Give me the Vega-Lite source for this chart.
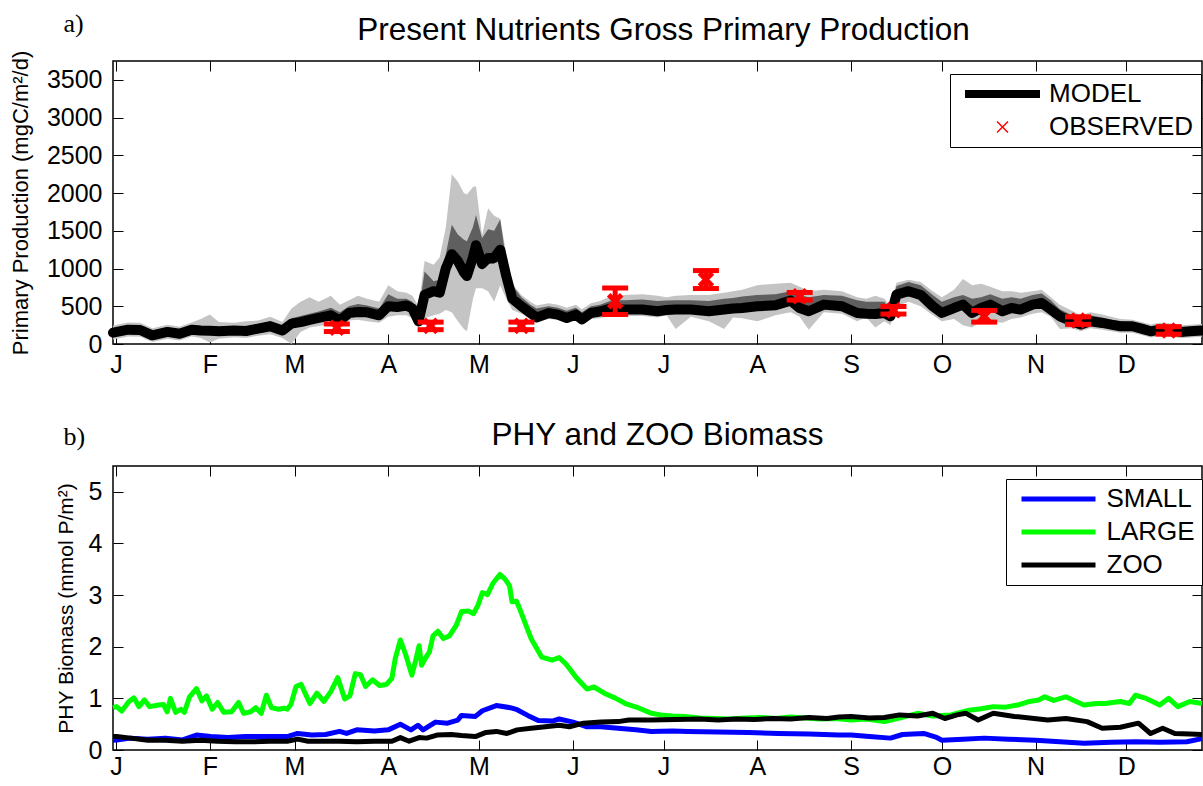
{
  "$schema": "https://vega.github.io/schema/vega-lite/v6.json",
  "background": "white",
  "padding": {"left": 8, "top": 9, "right": 0, "bottom": 0},
  "spacing": 40,
  "config": {
    "font": "Liberation Sans",
    "view": {"stroke": "black", "strokeWidth": 1.5},
    "axis": {"grid": false, "domain": false, "tickColor": "black", "tickSize": -10, "tickWidth": 1, "labelColor": "black", "labelFont": "Liberation Sans", "labelFontSize": 25, "titleColor": "black", "titleFont": "Liberation Sans", "titleFontWeight": "normal", "labelFlush": false, "labelOverlap": false},
    "title": {"font": "Liberation Sans", "fontSize": 31.5, "fontWeight": "normal", "color": "black", "frame": "group", "anchor": "middle"},
    "legend": {"labelFont": "Liberation Sans", "labelFontSize": 26, "labelColor": "black", "strokeColor": "black", "fillColor": "white", "padding": 7, "rowPadding": 7, "clipHeight": 26}
  },
  "datasets": {
    "pp": [
      {"day": 0, "pp": 150, "lo2": 60, "lo1": 100, "hi1": 210, "hi2": 245},
      {"day": 5, "pp": 190, "lo2": 100, "lo1": 140, "hi1": 250, "hi2": 285},
      {"day": 9, "pp": 185, "lo2": 95, "lo1": 135, "hi1": 245, "hi2": 280},
      {"day": 13, "pp": 115, "lo2": 25, "lo1": 65, "hi1": 175, "hi2": 210},
      {"day": 18, "pp": 160, "lo2": 70, "lo1": 110, "hi1": 220, "hi2": 255},
      {"day": 22, "pp": 135, "lo2": 45, "lo1": 85, "hi1": 195, "hi2": 230},
      {"day": 26, "pp": 190, "lo2": 100, "lo1": 140, "hi1": 250, "hi2": 285},
      {"day": 29, "pp": 178, "lo2": 80, "lo1": 128, "hi1": 240, "hi2": 330},
      {"day": 32, "pp": 175, "lo2": 20, "lo1": 125, "hi1": 240, "hi2": 390},
      {"day": 35, "pp": 170, "lo2": 70, "lo1": 120, "hi1": 230, "hi2": 290},
      {"day": 40, "pp": 178, "lo2": 90, "lo1": 128, "hi1": 240, "hi2": 280},
      {"day": 44, "pp": 172, "lo2": 80, "lo1": 122, "hi1": 232, "hi2": 300},
      {"day": 48, "pp": 205, "lo2": 110, "lo1": 155, "hi1": 265, "hi2": 310},
      {"day": 52, "pp": 235, "lo2": 130, "lo1": 185, "hi1": 300, "hi2": 360},
      {"day": 56, "pp": 178, "lo2": 80, "lo1": 128, "hi1": 240, "hi2": 290},
      {"day": 59, "pp": 270, "lo2": 0, "lo1": 210, "hi1": 340, "hi2": 470},
      {"day": 62, "pp": 290, "lo2": 160, "lo1": 240, "hi1": 370, "hi2": 560},
      {"day": 65, "pp": 320, "lo2": 220, "lo1": 270, "hi1": 400, "hi2": 620},
      {"day": 68, "pp": 345, "lo2": 240, "lo1": 295, "hi1": 430, "hi2": 560},
      {"day": 72, "pp": 380, "lo2": 260, "lo1": 330, "hi1": 480, "hi2": 640},
      {"day": 75, "pp": 310, "lo2": 230, "lo1": 265, "hi1": 420, "hi2": 520},
      {"day": 78, "pp": 410, "lo2": 310, "lo1": 360, "hi1": 500, "hi2": 580},
      {"day": 81, "pp": 425, "lo2": 320, "lo1": 375, "hi1": 530, "hi2": 640},
      {"day": 84, "pp": 420, "lo2": 300, "lo1": 370, "hi1": 510, "hi2": 600},
      {"day": 88, "pp": 380, "lo2": 280, "lo1": 330, "hi1": 470, "hi2": 560},
      {"day": 91, "pp": 500, "lo2": 360, "lo1": 450, "hi1": 660, "hi2": 780},
      {"day": 94, "pp": 490, "lo2": 380, "lo1": 440, "hi1": 600, "hi2": 700},
      {"day": 97, "pp": 510, "lo2": 380, "lo1": 460, "hi1": 600, "hi2": 680},
      {"day": 99, "pp": 470, "lo2": 340, "lo1": 420, "hi1": 560, "hi2": 640},
      {"day": 101, "pp": 300, "lo2": 220, "lo1": 260, "hi1": 400, "hi2": 500},
      {"day": 103, "pp": 650, "lo2": 340, "lo1": 600, "hi1": 960, "hi2": 1100},
      {"day": 106, "pp": 700, "lo2": 380, "lo1": 640, "hi1": 830, "hi2": 1050},
      {"day": 108, "pp": 680, "lo2": 400, "lo1": 630, "hi1": 850, "hi2": 1150},
      {"day": 110, "pp": 1000, "lo2": 450, "lo1": 920, "hi1": 1190, "hi2": 1540},
      {"day": 112, "pp": 1190, "lo2": 420, "lo1": 1100, "hi1": 1580, "hi2": 2250},
      {"day": 114, "pp": 1100, "lo2": 300, "lo1": 1000, "hi1": 1450, "hi2": 2150},
      {"day": 116, "pp": 950, "lo2": 200, "lo1": 880, "hi1": 1380, "hi2": 2000},
      {"day": 117, "pp": 900, "lo2": 170, "lo1": 850, "hi1": 1360, "hi2": 1980},
      {"day": 119, "pp": 1150, "lo2": 600, "lo1": 1070, "hi1": 1550, "hi2": 2080},
      {"day": 120, "pp": 1310, "lo2": 740, "lo1": 1250, "hi1": 1710, "hi2": 2090},
      {"day": 122, "pp": 1060, "lo2": 740, "lo1": 980, "hi1": 1400, "hi2": 1440},
      {"day": 124, "pp": 1140, "lo2": 700, "lo1": 1060, "hi1": 1520, "hi2": 1800},
      {"day": 126, "pp": 1140, "lo2": 560, "lo1": 1060, "hi1": 1500, "hi2": 1700},
      {"day": 128, "pp": 1250, "lo2": 780, "lo1": 1180, "hi1": 1650, "hi2": 1660},
      {"day": 130, "pp": 900, "lo2": 600, "lo1": 850, "hi1": 1100, "hi2": 1200},
      {"day": 132, "pp": 600, "lo2": 450, "lo1": 560, "hi1": 780, "hi2": 800},
      {"day": 135, "pp": 500, "lo2": 400, "lo1": 470, "hi1": 620, "hi2": 650},
      {"day": 138, "pp": 410, "lo2": 330, "lo1": 380, "hi1": 520, "hi2": 560},
      {"day": 140, "pp": 350, "lo2": 290, "lo1": 320, "hi1": 470, "hi2": 510},
      {"day": 144, "pp": 410, "lo2": 330, "lo1": 380, "hi1": 500, "hi2": 540},
      {"day": 147, "pp": 390, "lo2": 320, "lo1": 360, "hi1": 480, "hi2": 520},
      {"day": 150, "pp": 345, "lo2": 280, "lo1": 320, "hi1": 440, "hi2": 480},
      {"day": 153, "pp": 390, "lo2": 320, "lo1": 360, "hi1": 480, "hi2": 520},
      {"day": 155, "pp": 325, "lo2": 260, "lo1": 300, "hi1": 420, "hi2": 460},
      {"day": 158, "pp": 411, "lo2": 330, "lo1": 380, "hi1": 500, "hi2": 540},
      {"day": 161, "pp": 430, "lo2": 340, "lo1": 400, "hi1": 520, "hi2": 570},
      {"day": 165, "pp": 477, "lo2": 380, "lo1": 440, "hi1": 580, "hi2": 640},
      {"day": 169, "pp": 456, "lo2": 370, "lo1": 420, "hi1": 580, "hi2": 650},
      {"day": 175, "pp": 456, "lo2": 370, "lo1": 420, "hi1": 590, "hi2": 660},
      {"day": 180, "pp": 434, "lo2": 350, "lo1": 400, "hi1": 570, "hi2": 640},
      {"day": 183, "pp": 450, "lo2": 380, "lo1": 420, "hi1": 575, "hi2": 620},
      {"day": 186, "pp": 456, "lo2": 200, "lo1": 420, "hi1": 580, "hi2": 640},
      {"day": 191, "pp": 456, "lo2": 360, "lo1": 420, "hi1": 580, "hi2": 650},
      {"day": 197, "pp": 434, "lo2": 300, "lo1": 400, "hi1": 570, "hi2": 650},
      {"day": 202, "pp": 456, "lo2": 200, "lo1": 420, "hi1": 600, "hi2": 680},
      {"day": 205, "pp": 470, "lo2": 350, "lo1": 435, "hi1": 610, "hi2": 700},
      {"day": 208, "pp": 477, "lo2": 340, "lo1": 440, "hi1": 630, "hi2": 720},
      {"day": 213, "pp": 500, "lo2": 300, "lo1": 460, "hi1": 650, "hi2": 780},
      {"day": 219, "pp": 513, "lo2": 380, "lo1": 480, "hi1": 660, "hi2": 800},
      {"day": 224, "pp": 575, "lo2": 420, "lo1": 540, "hi1": 700, "hi2": 810},
      {"day": 227, "pp": 477, "lo2": 360, "lo1": 440, "hi1": 650, "hi2": 760},
      {"day": 230, "pp": 434, "lo2": 190, "lo1": 400, "hi1": 620, "hi2": 700},
      {"day": 235, "pp": 522, "lo2": 420, "lo1": 490, "hi1": 650, "hi2": 720},
      {"day": 241, "pp": 500, "lo2": 400, "lo1": 470, "hi1": 640, "hi2": 700},
      {"day": 246, "pp": 411, "lo2": 300, "lo1": 380, "hi1": 580, "hi2": 620},
      {"day": 249, "pp": 400, "lo2": 350, "lo1": 370, "hi1": 560, "hi2": 600},
      {"day": 252, "pp": 398, "lo2": 220, "lo1": 360, "hi1": 560, "hi2": 640},
      {"day": 255, "pp": 411, "lo2": 300, "lo1": 380, "hi1": 560, "hi2": 600},
      {"day": 257, "pp": 367, "lo2": 250, "lo1": 340, "hi1": 450, "hi2": 500},
      {"day": 259, "pp": 655, "lo2": 500, "lo1": 620, "hi1": 770, "hi2": 810},
      {"day": 263, "pp": 700, "lo2": 560, "lo1": 660, "hi1": 820, "hi2": 850},
      {"day": 267, "pp": 650, "lo2": 500, "lo1": 610, "hi1": 780, "hi2": 820},
      {"day": 271, "pp": 500, "lo2": 380, "lo1": 460, "hi1": 650, "hi2": 700},
      {"day": 274, "pp": 411, "lo2": 300, "lo1": 380, "hi1": 560, "hi2": 620},
      {"day": 278, "pp": 477, "lo2": 330, "lo1": 440, "hi1": 620, "hi2": 720},
      {"day": 281, "pp": 522, "lo2": 250, "lo1": 480, "hi1": 650, "hi2": 860},
      {"day": 284, "pp": 411, "lo2": 220, "lo1": 380, "hi1": 600, "hi2": 780},
      {"day": 287, "pp": 477, "lo2": 300, "lo1": 440, "hi1": 620, "hi2": 800},
      {"day": 290, "pp": 522, "lo2": 300, "lo1": 480, "hi1": 660, "hi2": 760},
      {"day": 294, "pp": 434, "lo2": 280, "lo1": 400, "hi1": 600, "hi2": 700},
      {"day": 297, "pp": 477, "lo2": 330, "lo1": 440, "hi1": 620, "hi2": 700},
      {"day": 300, "pp": 456, "lo2": 350, "lo1": 420, "hi1": 600, "hi2": 680},
      {"day": 304, "pp": 522, "lo2": 400, "lo1": 490, "hi1": 650, "hi2": 700},
      {"day": 307, "pp": 544, "lo2": 420, "lo1": 510, "hi1": 670, "hi2": 720},
      {"day": 310, "pp": 456, "lo2": 360, "lo1": 420, "hi1": 580, "hi2": 620},
      {"day": 313, "pp": 367, "lo2": 200, "lo1": 340, "hi1": 460, "hi2": 520},
      {"day": 317, "pp": 301, "lo2": 210, "lo1": 270, "hi1": 380, "hi2": 440},
      {"day": 320, "pp": 257, "lo2": 170, "lo1": 225, "hi1": 340, "hi2": 380},
      {"day": 323, "pp": 301, "lo2": 210, "lo1": 270, "hi1": 380, "hi2": 420},
      {"day": 327, "pp": 279, "lo2": 190, "lo1": 250, "hi1": 350, "hi2": 390},
      {"day": 330, "pp": 257, "lo2": 170, "lo1": 225, "hi1": 320, "hi2": 360},
      {"day": 333, "pp": 235, "lo2": 150, "lo1": 205, "hi1": 300, "hi2": 330},
      {"day": 337, "pp": 235, "lo2": 150, "lo1": 205, "hi1": 290, "hi2": 320},
      {"day": 340, "pp": 204, "lo2": 120, "lo1": 175, "hi1": 260, "hi2": 290},
      {"day": 343, "pp": 168, "lo2": 85, "lo1": 140, "hi1": 220, "hi2": 260},
      {"day": 346, "pp": 190, "lo2": 105, "lo1": 160, "hi1": 240, "hi2": 280},
      {"day": 350, "pp": 178, "lo2": 95, "lo1": 150, "hi1": 230, "hi2": 270},
      {"day": 353, "pp": 160, "lo2": 75, "lo1": 130, "hi1": 210, "hi2": 250},
      {"day": 356, "pp": 168, "lo2": 85, "lo1": 140, "hi1": 220, "hi2": 255},
      {"day": 360, "pp": 178, "lo2": 95, "lo1": 150, "hi1": 230, "hi2": 265}
    ],
    "obs": [
      {"day": 74, "obs": 215, "lo": 165, "hi": 265},
      {"day": 105, "obs": 240, "lo": 190, "hi": 290},
      {"day": 135, "obs": 240, "lo": 190, "hi": 290},
      {"day": 166, "obs": 566, "lo": 390, "hi": 742},
      {"day": 196, "obs": 854, "lo": 735, "hi": 973},
      {"day": 227, "obs": 633, "lo": 583, "hi": 683},
      {"day": 258, "obs": 447, "lo": 397, "hi": 497},
      {"day": 288, "obs": 367, "lo": 290, "hi": 445},
      {"day": 319, "obs": 310, "lo": 260, "hi": 360},
      {"day": 349, "obs": 180, "lo": 130, "hi": 230}
    ],
    "bio": [
      {"grp": "SMALL", "day": 0, "v": 0.19}, {"grp": "SMALL", "day": 1.2, "v": 0.195}, {"grp": "SMALL", "day": 5.8, "v": 0.23}, {"grp": "SMALL", "day": 11.5, "v": 0.21}, {"grp": "SMALL", "day": 17.3, "v": 0.23}, {"grp": "SMALL", "day": 23, "v": 0.195}, {"grp": "SMALL", "day": 27.6, "v": 0.29}, {"grp": "SMALL", "day": 32.3, "v": 0.26}, {"grp": "SMALL", "day": 38, "v": 0.24}, {"grp": "SMALL", "day": 43.8, "v": 0.26}, {"grp": "SMALL", "day": 50.7, "v": 0.26}, {"grp": "SMALL", "day": 57.6, "v": 0.26}, {"grp": "SMALL", "day": 61, "v": 0.32}, {"grp": "SMALL", "day": 65.7, "v": 0.29}, {"grp": "SMALL", "day": 70.3, "v": 0.3}, {"grp": "SMALL", "day": 74.9, "v": 0.36}, {"grp": "SMALL", "day": 77.2, "v": 0.32}, {"grp": "SMALL", "day": 80.6, "v": 0.39}, {"grp": "SMALL", "day": 86.4, "v": 0.37}, {"grp": "SMALL", "day": 91, "v": 0.39}, {"grp": "SMALL", "day": 95, "v": 0.5}, {"grp": "SMALL", "day": 98.5, "v": 0.39}, {"grp": "SMALL", "day": 100.8, "v": 0.48}, {"grp": "SMALL", "day": 102.5, "v": 0.39}, {"grp": "SMALL", "day": 106.6, "v": 0.54}, {"grp": "SMALL", "day": 110.6, "v": 0.52}, {"grp": "SMALL", "day": 114, "v": 0.58}, {"grp": "SMALL", "day": 115.2, "v": 0.67}, {"grp": "SMALL", "day": 119.8, "v": 0.65}, {"grp": "SMALL", "day": 122.1, "v": 0.76}, {"grp": "SMALL", "day": 126.7, "v": 0.86}, {"grp": "SMALL", "day": 131.3, "v": 0.82}, {"grp": "SMALL", "day": 133.6, "v": 0.78}, {"grp": "SMALL", "day": 137.1, "v": 0.67}, {"grp": "SMALL", "day": 140.6, "v": 0.57}, {"grp": "SMALL", "day": 145.2, "v": 0.56}, {"grp": "SMALL", "day": 147.5, "v": 0.6}, {"grp": "SMALL", "day": 152.1, "v": 0.54}, {"grp": "SMALL", "day": 156.7, "v": 0.45}, {"grp": "SMALL", "day": 161.3, "v": 0.45}, {"grp": "SMALL", "day": 167, "v": 0.42}, {"grp": "SMALL", "day": 172.8, "v": 0.39}, {"grp": "SMALL", "day": 178, "v": 0.36}, {"grp": "SMALL", "day": 185, "v": 0.37}, {"grp": "SMALL", "day": 190, "v": 0.36}, {"grp": "SMALL", "day": 200, "v": 0.35}, {"grp": "SMALL", "day": 210, "v": 0.34}, {"grp": "SMALL", "day": 220, "v": 0.32}, {"grp": "SMALL", "day": 230, "v": 0.31}, {"grp": "SMALL", "day": 240, "v": 0.29}, {"grp": "SMALL", "day": 244, "v": 0.29}, {"grp": "SMALL", "day": 250, "v": 0.26}, {"grp": "SMALL", "day": 257, "v": 0.23}, {"grp": "SMALL", "day": 261, "v": 0.3}, {"grp": "SMALL", "day": 268, "v": 0.32}, {"grp": "SMALL", "day": 272, "v": 0.25}, {"grp": "SMALL", "day": 274, "v": 0.19}, {"grp": "SMALL", "day": 281, "v": 0.21}, {"grp": "SMALL", "day": 288, "v": 0.23}, {"grp": "SMALL", "day": 296, "v": 0.21}, {"grp": "SMALL", "day": 305, "v": 0.19}, {"grp": "SMALL", "day": 313, "v": 0.16}, {"grp": "SMALL", "day": 321, "v": 0.13}, {"grp": "SMALL", "day": 330, "v": 0.15}, {"grp": "SMALL", "day": 338, "v": 0.16}, {"grp": "SMALL", "day": 346, "v": 0.15}, {"grp": "SMALL", "day": 355, "v": 0.16}, {"grp": "SMALL", "day": 360, "v": 0.22},
      {"grp": "LARGE", "day": 0, "v": 0.82}, {"grp": "LARGE", "day": 1.2, "v": 0.84}, {"grp": "LARGE", "day": 2.9, "v": 0.755}, {"grp": "LARGE", "day": 5.2, "v": 0.935}, {"grp": "LARGE", "day": 6.9, "v": 1.01}, {"grp": "LARGE", "day": 8.6, "v": 0.84}, {"grp": "LARGE", "day": 10.4, "v": 0.97}, {"grp": "LARGE", "day": 12.1, "v": 0.84}, {"grp": "LARGE", "day": 15, "v": 0.87}, {"grp": "LARGE", "day": 16.7, "v": 0.88}, {"grp": "LARGE", "day": 17.9, "v": 0.74}, {"grp": "LARGE", "day": 19, "v": 1.0}, {"grp": "LARGE", "day": 20.7, "v": 0.73}, {"grp": "LARGE", "day": 22.5, "v": 0.79}, {"grp": "LARGE", "day": 23.6, "v": 0.73}, {"grp": "LARGE", "day": 25.3, "v": 1.03}, {"grp": "LARGE", "day": 27.6, "v": 1.19}, {"grp": "LARGE", "day": 29.4, "v": 0.95}, {"grp": "LARGE", "day": 30.9, "v": 1.05}, {"grp": "LARGE", "day": 32.8, "v": 0.79}, {"grp": "LARGE", "day": 34.6, "v": 0.92}, {"grp": "LARGE", "day": 36.6, "v": 0.73}, {"grp": "LARGE", "day": 39.2, "v": 0.74}, {"grp": "LARGE", "day": 41.5, "v": 0.92}, {"grp": "LARGE", "day": 43.2, "v": 0.71}, {"grp": "LARGE", "day": 45.5, "v": 0.74}, {"grp": "LARGE", "day": 47.2, "v": 0.82}, {"grp": "LARGE", "day": 49, "v": 0.71}, {"grp": "LARGE", "day": 50.7, "v": 1.06}, {"grp": "LARGE", "day": 52.4, "v": 0.82}, {"grp": "LARGE", "day": 54.7, "v": 0.79}, {"grp": "LARGE", "day": 56.5, "v": 0.81}, {"grp": "LARGE", "day": 57.6, "v": 0.79}, {"grp": "LARGE", "day": 58.8, "v": 0.88}, {"grp": "LARGE", "day": 60.5, "v": 1.23}, {"grp": "LARGE", "day": 62.2, "v": 1.27}, {"grp": "LARGE", "day": 65.1, "v": 0.9}, {"grp": "LARGE", "day": 67.4, "v": 1.1}, {"grp": "LARGE", "day": 69.7, "v": 0.94}, {"grp": "LARGE", "day": 72, "v": 1.13}, {"grp": "LARGE", "day": 74.3, "v": 1.4}, {"grp": "LARGE", "day": 76.6, "v": 0.99}, {"grp": "LARGE", "day": 78.3, "v": 1.05}, {"grp": "LARGE", "day": 80.1, "v": 1.48}, {"grp": "LARGE", "day": 81.8, "v": 1.46}, {"grp": "LARGE", "day": 83.5, "v": 1.23}, {"grp": "LARGE", "day": 85.8, "v": 1.36}, {"grp": "LARGE", "day": 88.1, "v": 1.25}, {"grp": "LARGE", "day": 90.4, "v": 1.27}, {"grp": "LARGE", "day": 92.2, "v": 1.39}, {"grp": "LARGE", "day": 93.3, "v": 1.77}, {"grp": "LARGE", "day": 95, "v": 2.13}, {"grp": "LARGE", "day": 96.8, "v": 1.84}, {"grp": "LARGE", "day": 98.8, "v": 1.45}, {"grp": "LARGE", "day": 100.2, "v": 1.77}, {"grp": "LARGE", "day": 101.2, "v": 2.02}, {"grp": "LARGE", "day": 102, "v": 1.64}, {"grp": "LARGE", "day": 103.5, "v": 1.8}, {"grp": "LARGE", "day": 104.6, "v": 1.9}, {"grp": "LARGE", "day": 105.8, "v": 2.21}, {"grp": "LARGE", "day": 107.4, "v": 2.3}, {"grp": "LARGE", "day": 109.2, "v": 2.16}, {"grp": "LARGE", "day": 111.2, "v": 2.21}, {"grp": "LARGE", "day": 113.5, "v": 2.42}, {"grp": "LARGE", "day": 115.2, "v": 2.68}, {"grp": "LARGE", "day": 117.5, "v": 2.69}, {"grp": "LARGE", "day": 119.2, "v": 2.64}, {"grp": "LARGE", "day": 120.7, "v": 2.81}, {"grp": "LARGE", "day": 122.1, "v": 3.05}, {"grp": "LARGE", "day": 123.8, "v": 3.01}, {"grp": "LARGE", "day": 125.6, "v": 3.23}, {"grp": "LARGE", "day": 127.9, "v": 3.4}, {"grp": "LARGE", "day": 129.6, "v": 3.31}, {"grp": "LARGE", "day": 131.1, "v": 3.18}, {"grp": "LARGE", "day": 131.9, "v": 2.87}, {"grp": "LARGE", "day": 133.4, "v": 2.88}, {"grp": "LARGE", "day": 134.8, "v": 2.68}, {"grp": "LARGE", "day": 136.5, "v": 2.42}, {"grp": "LARGE", "day": 138.2, "v": 2.16}, {"grp": "LARGE", "day": 141.7, "v": 1.8}, {"grp": "LARGE", "day": 145.2, "v": 1.74}, {"grp": "LARGE", "day": 147.5, "v": 1.79}, {"grp": "LARGE", "day": 149.8, "v": 1.66}, {"grp": "LARGE", "day": 153.2, "v": 1.4}, {"grp": "LARGE", "day": 156.7, "v": 1.18}, {"grp": "LARGE", "day": 159, "v": 1.22}, {"grp": "LARGE", "day": 162.4, "v": 1.1}, {"grp": "LARGE", "day": 165.9, "v": 1.01}, {"grp": "LARGE", "day": 169.4, "v": 0.9}, {"grp": "LARGE", "day": 174, "v": 0.81}, {"grp": "LARGE", "day": 178, "v": 0.71}, {"grp": "LARGE", "day": 181, "v": 0.68}, {"grp": "LARGE", "day": 185, "v": 0.66}, {"grp": "LARGE", "day": 189, "v": 0.65}, {"grp": "LARGE", "day": 194, "v": 0.62}, {"grp": "LARGE", "day": 199, "v": 0.61}, {"grp": "LARGE", "day": 204, "v": 0.6}, {"grp": "LARGE", "day": 209, "v": 0.62}, {"grp": "LARGE", "day": 214, "v": 0.63}, {"grp": "LARGE", "day": 219, "v": 0.61}, {"grp": "LARGE", "day": 224, "v": 0.64}, {"grp": "LARGE", "day": 229, "v": 0.62}, {"grp": "LARGE", "day": 234, "v": 0.6}, {"grp": "LARGE", "day": 239, "v": 0.61}, {"grp": "LARGE", "day": 244, "v": 0.58}, {"grp": "LARGE", "day": 249, "v": 0.6}, {"grp": "LARGE", "day": 255, "v": 0.55}, {"grp": "LARGE", "day": 260, "v": 0.62}, {"grp": "LARGE", "day": 266, "v": 0.71}, {"grp": "LARGE", "day": 271, "v": 0.66}, {"grp": "LARGE", "day": 277, "v": 0.68}, {"grp": "LARGE", "day": 283, "v": 0.77}, {"grp": "LARGE", "day": 287, "v": 0.8}, {"grp": "LARGE", "day": 291, "v": 0.84}, {"grp": "LARGE", "day": 295, "v": 0.83}, {"grp": "LARGE", "day": 299, "v": 0.87}, {"grp": "LARGE", "day": 303, "v": 0.94}, {"grp": "LARGE", "day": 306, "v": 0.97}, {"grp": "LARGE", "day": 308, "v": 1.03}, {"grp": "LARGE", "day": 311, "v": 0.96}, {"grp": "LARGE", "day": 315, "v": 1.03}, {"grp": "LARGE", "day": 318, "v": 0.95}, {"grp": "LARGE", "day": 321, "v": 0.87}, {"grp": "LARGE", "day": 325, "v": 0.9}, {"grp": "LARGE", "day": 328, "v": 0.9}, {"grp": "LARGE", "day": 333, "v": 0.94}, {"grp": "LARGE", "day": 336, "v": 0.9}, {"grp": "LARGE", "day": 338, "v": 1.06}, {"grp": "LARGE", "day": 341, "v": 1.01}, {"grp": "LARGE", "day": 344, "v": 0.93}, {"grp": "LARGE", "day": 346, "v": 0.87}, {"grp": "LARGE", "day": 349, "v": 1.0}, {"grp": "LARGE", "day": 352, "v": 0.84}, {"grp": "LARGE", "day": 356, "v": 0.94}, {"grp": "LARGE", "day": 360, "v": 0.9},
      {"grp": "ZOO", "day": 0, "v": 0.26}, {"grp": "ZOO", "day": 1.2, "v": 0.26}, {"grp": "ZOO", "day": 5.8, "v": 0.23}, {"grp": "ZOO", "day": 11.5, "v": 0.19}, {"grp": "ZOO", "day": 17.3, "v": 0.19}, {"grp": "ZOO", "day": 23, "v": 0.17}, {"grp": "ZOO", "day": 28.8, "v": 0.19}, {"grp": "ZOO", "day": 34.6, "v": 0.17}, {"grp": "ZOO", "day": 40.3, "v": 0.16}, {"grp": "ZOO", "day": 46.1, "v": 0.16}, {"grp": "ZOO", "day": 51.8, "v": 0.17}, {"grp": "ZOO", "day": 57.6, "v": 0.17}, {"grp": "ZOO", "day": 61, "v": 0.21}, {"grp": "ZOO", "day": 64.5, "v": 0.17}, {"grp": "ZOO", "day": 69.1, "v": 0.17}, {"grp": "ZOO", "day": 74.9, "v": 0.17}, {"grp": "ZOO", "day": 80.6, "v": 0.16}, {"grp": "ZOO", "day": 86.4, "v": 0.17}, {"grp": "ZOO", "day": 92.2, "v": 0.17}, {"grp": "ZOO", "day": 95, "v": 0.24}, {"grp": "ZOO", "day": 97.9, "v": 0.17}, {"grp": "ZOO", "day": 101.2, "v": 0.24}, {"grp": "ZOO", "day": 103.7, "v": 0.23}, {"grp": "ZOO", "day": 107.1, "v": 0.29}, {"grp": "ZOO", "day": 111.8, "v": 0.3}, {"grp": "ZOO", "day": 115.2, "v": 0.28}, {"grp": "ZOO", "day": 119.8, "v": 0.26}, {"grp": "ZOO", "day": 123.3, "v": 0.34}, {"grp": "ZOO", "day": 126.7, "v": 0.36}, {"grp": "ZOO", "day": 130.2, "v": 0.32}, {"grp": "ZOO", "day": 133.6, "v": 0.39}, {"grp": "ZOO", "day": 138.2, "v": 0.42}, {"grp": "ZOO", "day": 142.9, "v": 0.45}, {"grp": "ZOO", "day": 147.5, "v": 0.48}, {"grp": "ZOO", "day": 150.9, "v": 0.45}, {"grp": "ZOO", "day": 155.5, "v": 0.52}, {"grp": "ZOO", "day": 161.3, "v": 0.54}, {"grp": "ZOO", "day": 167, "v": 0.55}, {"grp": "ZOO", "day": 170.5, "v": 0.58}, {"grp": "ZOO", "day": 178, "v": 0.58}, {"grp": "ZOO", "day": 186, "v": 0.59}, {"grp": "ZOO", "day": 194, "v": 0.6}, {"grp": "ZOO", "day": 200, "v": 0.58}, {"grp": "ZOO", "day": 206, "v": 0.6}, {"grp": "ZOO", "day": 212, "v": 0.59}, {"grp": "ZOO", "day": 218, "v": 0.61}, {"grp": "ZOO", "day": 224, "v": 0.6}, {"grp": "ZOO", "day": 230, "v": 0.63}, {"grp": "ZOO", "day": 236, "v": 0.61}, {"grp": "ZOO", "day": 240, "v": 0.64}, {"grp": "ZOO", "day": 244, "v": 0.65}, {"grp": "ZOO", "day": 250, "v": 0.62}, {"grp": "ZOO", "day": 255, "v": 0.63}, {"grp": "ZOO", "day": 260, "v": 0.68}, {"grp": "ZOO", "day": 266, "v": 0.66}, {"grp": "ZOO", "day": 271, "v": 0.71}, {"grp": "ZOO", "day": 275, "v": 0.61}, {"grp": "ZOO", "day": 279, "v": 0.68}, {"grp": "ZOO", "day": 282, "v": 0.71}, {"grp": "ZOO", "day": 286, "v": 0.58}, {"grp": "ZOO", "day": 291, "v": 0.71}, {"grp": "ZOO", "day": 298, "v": 0.65}, {"grp": "ZOO", "day": 303, "v": 0.62}, {"grp": "ZOO", "day": 309, "v": 0.58}, {"grp": "ZOO", "day": 315, "v": 0.61}, {"grp": "ZOO", "day": 322, "v": 0.55}, {"grp": "ZOO", "day": 327, "v": 0.42}, {"grp": "ZOO", "day": 333, "v": 0.44}, {"grp": "ZOO", "day": 339, "v": 0.52}, {"grp": "ZOO", "day": 343, "v": 0.32}, {"grp": "ZOO", "day": 347, "v": 0.42}, {"grp": "ZOO", "day": 351, "v": 0.32}, {"grp": "ZOO", "day": 356, "v": 0.31}, {"grp": "ZOO", "day": 360, "v": 0.3}
    ]
  },
  "vconcat": [
    {
      "width": 1089,
      "height": 283,
      "title": {"text": "Present Nutrients Gross Primary Production", "offset": -36, "dx": 6},
      "layer": [
        {
          "data": {"name": "pp"},
          "mark": {"type": "area", "color": "#c4c4c4", "opacity": 1},
          "encoding": {
            "x": {"field": "day", "type": "quantitative", "scale": {"domain": [0, 360], "nice": false, "zero": false},
              "axis": {"orient": "bottom", "values": [1, 32, 60, 91, 121, 152, 182, 213, 244, 274, 305, 335], "labelExpr": "['J','F','M','A','M','J','J','A','S','O','N','D'][indexof([1,32,60,91,121,152,182,213,244,274,305,335], datum.value)]", "labelPadding": 18, "title": null}},
            "y": {"field": "hi2", "type": "quantitative", "scale": {"domain": [0, 3750], "nice": false},
              "axis": {"orient": "left", "values": [0, 500, 1000, 1500, 2000, 2500, 3000, 3500], "format": "d", "labelPadding": 21, "title": "Primary Production (mgC/m²/d)", "titleFontSize": 22, "titlePadding": 14}},
            "y2": {"field": "lo2"}
          }
        },
        {
          "data": {"name": "pp"},
          "mark": {"type": "area", "color": "#5f5f5f", "opacity": 1},
          "encoding": {
            "x": {"field": "day", "type": "quantitative",
              "axis": {"orient": "top", "values": [1, 32, 60, 91, 121, 152, 182, 213, 244, 274, 305, 335], "labels": false, "title": "a)", "titleFont": "Liberation Serif", "titleFontSize": 26, "titleAngle": 0, "titleAlign": "left", "titleBaseline": "alphabetic", "titleX": -50, "titleY": -30}},
            "y": {"field": "hi1", "type": "quantitative",
              "axis": {"orient": "right", "values": [0, 500, 1000, 1500, 2000, 2500, 3000, 3500], "labels": false, "title": null}},
            "y2": {"field": "lo1"}
          }
        },
        {
          "data": {"name": "pp"},
          "mark": {"type": "line", "strokeWidth": 10, "strokeJoin": "round", "strokeCap": "round"},
          "encoding": {
            "x": {"field": "day", "type": "quantitative", "axis": null},
            "y": {"field": "pp", "type": "quantitative", "axis": null},
            "color": {"datum": "MODEL", "type": "nominal",
              "scale": {"domain": ["MODEL", "OBSERVED"], "range": ["#000000", "#ff0000"]},
              "legend": {"orient": "none", "legendX": 837, "legendY": 13, "title": null, "symbolType": "stroke", "symbolSize": 5625, "symbolStrokeWidth": 8, "symbolOffset": 4, "labelOffset": 5,
                "encode": {"symbols": {"update": {
                  "shape": {"signal": "(datum.value === 'OBSERVED' ? 'M0,-0.028L0.132,-0.16L0.16,-0.132L0.028,0L0.16,0.132L0.132,0.16L0,0.028L-0.132,0.16L-0.16,0.132L-0.028,0L-0.16,-0.132L-0.132,-0.16Z' : 'stroke')"},
                  "fill": {"signal": "(datum.value === 'OBSERVED' ? '#ff0000' : 'transparent')"},
                  "stroke": {"signal": "(datum.value === 'OBSERVED' ? 'transparent' : '#000000')"},
                  "strokeWidth": {"signal": "(datum.value === 'OBSERVED' ? 0 : 8)"}
                }}}}}
          }
        },
        {
          "data": {"name": "obs"},
          "mark": {"type": "rule", "color": "#ff0000", "strokeWidth": 5},
          "encoding": {
            "x": {"field": "day", "type": "quantitative", "axis": null},
            "y": {"field": "lo", "type": "quantitative", "axis": null},
            "y2": {"field": "hi"}
          }
        },
        {
          "data": {"name": "obs"},
          "mark": {"type": "tick", "orient": "horizontal", "color": "#ff0000", "size": 26, "thickness": 5, "opacity": 1},
          "encoding": {
            "x": {"field": "day", "type": "quantitative", "axis": null},
            "y": {"field": "lo", "type": "quantitative", "axis": null}
          }
        },
        {
          "data": {"name": "obs"},
          "mark": {"type": "tick", "orient": "horizontal", "color": "#ff0000", "size": 26, "thickness": 5, "opacity": 1},
          "encoding": {
            "x": {"field": "day", "type": "quantitative", "axis": null},
            "y": {"field": "hi", "type": "quantitative", "axis": null}
          }
        },
        {
          "data": {"name": "obs"},
          "mark": {"type": "point", "shape": "M-1,-1L1,1M-1,1L1,-1", "filled": false, "strokeWidth": 5, "size": 169, "opacity": 1},
          "encoding": {
            "x": {"field": "day", "type": "quantitative", "axis": null},
            "y": {"field": "obs", "type": "quantitative", "axis": null},
            "color": {"datum": "OBSERVED", "type": "nominal"}
          }
        }
      ],
      "resolve": {"axis": {"x": "independent", "y": "independent"}}
    },
    {
      "width": 1089,
      "height": 284,
      "title": {"text": "PHY and ZOO Biomass", "offset": -28},
      "data": {"name": "bio"},
      "layer": [
        {
          "transform": [{"filter": "datum.grp === 'SMALL'"}],
          "mark": {"type": "line", "strokeWidth": 5, "strokeJoin": "round"},
          "encoding": {
            "x": {"field": "day", "type": "quantitative", "scale": {"domain": [0, 360], "nice": false, "zero": false},
              "axis": {"orient": "bottom", "values": [1, 32, 60, 91, 121, 152, 182, 213, 244, 274, 305, 335], "labelExpr": "['J','F','M','A','M','J','J','A','S','O','N','D'][indexof([1,32,60,91,121,152,182,213,244,274,305,335], datum.value)]", "labelPadding": 14, "title": null}},
            "y": {"field": "v", "type": "quantitative", "scale": {"domain": [0, 5.5], "nice": false},
              "axis": {"orient": "left", "values": [0, 1, 2, 3, 4, 5], "format": "d", "labelPadding": 21, "title": "PHY Biomass (mmol P/m²)", "titleFontSize": 21, "titlePadding": 12}},
            "color": {"field": "grp", "type": "nominal",
              "scale": {"domain": ["SMALL", "LARGE", "ZOO"], "range": ["#0000ff", "#00ff00", "#000000"]},
              "legend": {"orient": "none", "legendX": 893, "legendY": 13, "title": null, "symbolType": "stroke", "symbolSize": 5476, "symbolStrokeWidth": 5, "symbolOffset": 6, "labelOffset": 8.5}}
          }
        },
        {
          "transform": [{"filter": "datum.grp === 'LARGE'"}],
          "mark": {"type": "line", "strokeWidth": 5, "strokeJoin": "round"},
          "encoding": {
            "x": {"field": "day", "type": "quantitative",
              "axis": {"orient": "top", "values": [1, 32, 60, 91, 121, 152, 182, 213, 244, 274, 305, 335], "labels": false, "title": "b)", "titleFont": "Liberation Serif", "titleFontSize": 26, "titleAngle": 0, "titleAlign": "left", "titleBaseline": "alphabetic", "titleX": -50, "titleY": -22}},
            "y": {"field": "v", "type": "quantitative",
              "axis": {"orient": "right", "values": [0, 1, 2, 3, 4, 5], "labels": false, "title": null}},
            "color": {"field": "grp", "type": "nominal"}
          }
        },
        {
          "transform": [{"filter": "datum.grp === 'ZOO'"}],
          "mark": {"type": "line", "strokeWidth": 5, "strokeJoin": "round"},
          "encoding": {
            "x": {"field": "day", "type": "quantitative", "axis": null},
            "y": {"field": "v", "type": "quantitative", "axis": null},
            "color": {"field": "grp", "type": "nominal"}
          }
        }
      ],
      "resolve": {"axis": {"x": "independent", "y": "independent"}}
    }
  ],
  "resolve": {"scale": {"color": "independent"}, "legend": {"color": "independent"}}
}
